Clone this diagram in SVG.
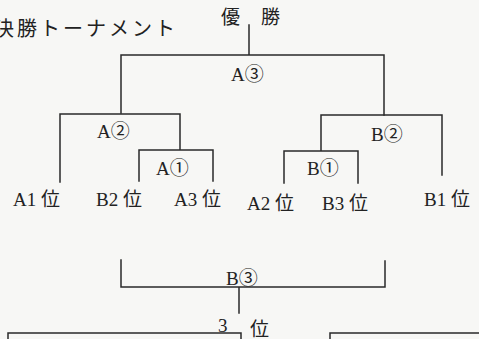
<svg xmlns="http://www.w3.org/2000/svg" width="479" height="339" viewBox="0 0 479 339">
<style>
.bg{fill:#f7f7f5}
.ln{fill:none;stroke:#2a2a2a;stroke-width:1.5;stroke-linecap:square}
text{font-family:"Liberation Serif","Noto Sans CJK JP",serif;font-size:19px;fill:#222}
.ttl{font-size:20px;letter-spacing:3px}
</style>
<rect class="bg" x="0" y="0" width="479" height="339"/>
<g id="title"><text class="ttl" x="-6" y="36">決勝トーナメント</text></g>
<g id="winner"><text x="221" y="24">優</text><text x="261" y="24">勝</text></g>
<g id="A3match"><text x="231" y="81">A③</text></g>
<g id="A2match"><text x="97" y="138">A②</text></g>
<g id="A1match"><text x="156" y="175">A①</text></g>
<g id="B2match"><text x="371" y="141">B②</text></g>
<g id="B1match"><text x="307" y="175">B①</text></g>
<g id="A1"><text x="13" y="206">A1 位</text></g>
<g id="B2"><text x="96" y="206">B2 位</text></g>
<g id="A3"><text x="174" y="206">A3 位</text></g>
<g id="A2"><text x="247" y="210">A2 位</text></g>
<g id="B3"><text x="322" y="210">B3 位</text></g>
<g id="B1"><text x="424" y="206">B1 位</text></g>
<g id="B3match"><text x="226" y="285">B③</text></g>
<g id="third"><text x="218" y="332">3</text><text x="250" y="336">位</text></g>
<g id="connectors">
<path class="ln" d="M249,25V55M121,113V55H384V115"/>
<path class="ln" d="M60,182V114H180V150M139,181V150H213V181"/>
<path class="ln" d="M442,175V115H321V151M284,183V151H358V183"/>
<path class="ln" d="M121,260V287H385V261M239,287V313"/>
<path class="ln" d="M8,340V333H241V340M330,340V333H480"/>
</g>
</svg>
